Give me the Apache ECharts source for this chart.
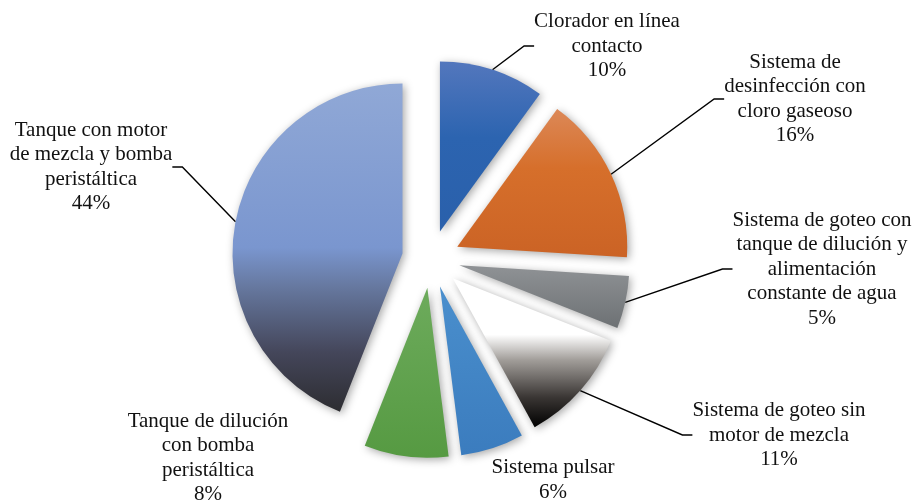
<!DOCTYPE html>
<html><head><meta charset="utf-8">
<script src="https://cdn.jsdelivr.net/npm/echarts@6/dist/echarts.min.js"></script>
<style>html,body{margin:0;padding:0;background:#fff}#c{width:914px;height:503px}</style>
</head><body><div id="c"></div>
<script>
// ---- data ----
const categories = [
  'Clorador en línea\ncontacto',
  'Sistema de\ndesinfección con\ncloro gaseoso',
  'Sistema de goteo con\ntanque de dilución y\nalimentación\nconstante de agua',
  'Sistema de goteo sin\nmotor de mezcla',
  'Sistema pulsar',
  'Tanque de dilución\ncon bomba\nperistáltica',
  'Tanque con motor\nde mezcla y bomba\nperistáltica'
];
const values = [10, 16, 5, 11, 6, 8, 44];

// ---- layout / style (not data) ----
const labelPos = [[607, 46], [795, 99], [822, 269], [779, 435], [553, 480], [208, 458], [91, 167]];
const showLine = [true, true, true, true, false, false, true];
const gradStops = [
  [[0, '#5377bd'], [0.45, '#2c64b0'], [1, '#2a60ab']],
  [[0, '#dc8857'], [0.4, '#d66f2b'], [1, '#cb6325']],
  [[0, '#8f9295'], [1, '#6d7174']],
  [[0, '#ffffff'], [0.38, '#ffffff'], [0.55, '#a19d99'], [0.8, '#3a3634'], [1, '#000000']],
  [[0, '#4a8fcd'], [1, '#3b7cbe']],
  [[0, '#6dab5c'], [1, '#569a42']],
  [[0, '#90a8d6'], [0.5, '#7a96cf'], [0.62, '#66789f'], [0.82, '#44465a'], [1, '#2d2d31']]
];
const CENTER = [431, 259];
const RADIUS = 170;
const EXPLODE = 29;

function grad(stops) {
  return new echarts.graphic.LinearGradient(0, 0, 0, 1, stops.map(s => ({offset: s[0], color: s[1]})));
}

const chart = echarts.init(document.getElementById('c'), null, {renderer: 'canvas'});
chart.setOption({
  animation: false,
  series: [{
    // visible exploded pie
    type: 'pie',
    center: CENTER,
    radius: RADIUS,
    startAngle: 90,
    clockwise: true,
    selectedMode: 'multiple',
    selectedOffset: EXPLODE,
    silent: true,
    itemStyle: {
      borderWidth: 0,
      shadowBlur: 8,
      shadowColor: 'rgba(0,0,0,0.35)',
      shadowOffsetX: 2,
      shadowOffsetY: 2
    },
    select: {itemStyle: {borderWidth: 0, borderColor: 'transparent'}},
    label: {show: false},
    labelLine: {show: false},
    data: values.map((v, i) => ({
      name: categories[i],
      value: v,
      selected: true,
      itemStyle: {color: grad(gradStops[i])}
    }))
  }, {
    // invisible helper pie at the exploded outer radius, carrying the labels
    type: 'pie',
    center: CENTER,
    radius: RADIUS + EXPLODE,
    startAngle: 90,
    clockwise: true,
    silent: true,
    avoidLabelOverlap: false,
    itemStyle: {color: 'rgba(0,0,0,0)', borderWidth: 0},
    label: {
      show: true,
      position: 'outside',
      fontFamily: 'Liberation Serif',
      fontSize: 21,
      lineHeight: 24.5,
      color: '#111',
      formatter: p => p.name + '\n' + p.value + '%'
    },
    labelLine: {
      show: true,
      length: 10,
      length2: 10,
      minTurnAngle: 0,
      lineStyle: {color: '#000', width: 1.4}
    },
    labelLayout: function (params) {
      const p = labelPos[params.dataIndex];
      return {x: p[0], y: p[1], align: 'center', verticalAlign: 'middle'};
    },
    data: values.map((v, i) => ({
      name: categories[i],
      value: v,
      labelLine: {show: showLine[i]}
    }))
  }]
});
</script>
</body></html>
